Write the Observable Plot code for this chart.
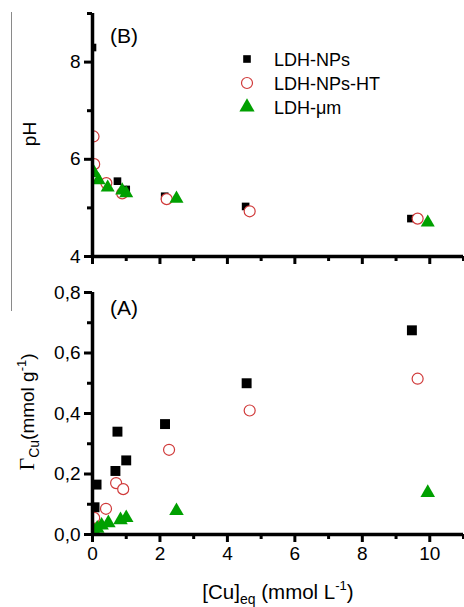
<!DOCTYPE html>
<html><head><meta charset="utf-8">
<script src="https://cdn.jsdelivr.net/npm/d3@7"></script>
<script src="https://cdn.jsdelivr.net/npm/@observablehq/plot@0.6"></script>
<style>
html,body{margin:0;padding:0;background:#fff;}
#wrap{position:relative;width:464px;height:607px;overflow:hidden;font-family:"Liberation Sans",Arial,sans-serif;}
#topPanel,#botPanel{position:absolute;left:0;}
#topPanel{top:0;} #botPanel{top:275px;}
#bar{position:absolute;left:11px;top:12px;width:0;height:299px;border-left:1.5px solid #8a8a8a;z-index:2;}
g[aria-label="x-axis tick"], g[aria-label="y-axis tick"]{stroke-width:3px;stroke:#000;}
</style></head>
<body><div id="wrap"><div id="topPanel"></div><div id="botPanel"></div><div id="bar"></div></div>
<script>
// ---- Data ----
const seriesNames = ["LDH-NPs", "LDH-NPs-HT", "LDH-\u03bcm"];
// Panel B: pH vs [Cu]eq
const phNPsX   = [0.0, 0.74, 1.0, 2.14, 4.54, 9.44];
const phNPsY   = [8.3, 5.55, 5.38, 5.24, 5.03, 4.78];
const phHTX    = [0.03, 0.05, 0.41, 0.88, 2.2, 4.66, 9.64];
const phHTY    = [6.47, 5.9, 5.51, 5.3, 5.18, 4.93, 4.78];
const phUmX    = [0.05, 0.18, 0.45, 0.88, 1.0, 2.49, 9.94];
const phUmY    = [5.72, 5.57, 5.42, 5.36, 5.3, 5.19, 4.70];
// Panel A: Gamma_Cu vs [Cu]eq
const gNPsX    = [0.03, 0.06, 0.12, 0.68, 0.74, 1.0, 2.15, 4.57, 9.47];
const gNPsY    = [0.045, 0.09, 0.165, 0.21, 0.34, 0.245, 0.365, 0.50, 0.675];
const gHTX     = [0.03, 0.05, 0.4, 0.7, 0.91, 2.27, 4.66, 9.64];
const gHTY     = [0.035, 0.055, 0.085, 0.17, 0.15, 0.28, 0.41, 0.515];
const gUmX     = [0.05, 0.14, 0.27, 0.47, 0.83, 1.0, 2.49, 9.94];
const gUmY     = [0.01, 0.02, 0.03, 0.038, 0.048, 0.055, 0.078, 0.138];
// Ticks
const xMajor = [0, 2, 4, 6, 8, 10];
const xMinor = [1, 3, 5, 7, 9, 11];
const phMajor = [4, 6, 8];
const phMinor = [5, 7, 9];
const gMajor = [0, 0.2, 0.4, 0.6, 0.8];
const gMinor = [0.1, 0.3, 0.5, 0.7];

const zip = (xs, ys) => xs.map((x, i) => ({x, y: ys[i]}));
const RED = "#d03a3a", GREEN = "#00a000";
const FONT = "\"Liberation Sans\", Arial, sans-serif";
const comma = d => d.toFixed(1).replace(".", ",");

function axes(yMajor, yMinor, yBase, showX, fmtY) {
  return [
    Plot.axisX({ticks: xMajor, tickSize: 8, strokeWidth: 3.2, tickPadding: 4,
      tickFormat: showX ? (d => String(d)) : () => "", fontSize: 19}),
    Plot.axisX({ticks: xMinor, tickSize: 5, strokeWidth: 3, tickFormat: () => ""}),
    Plot.axisY({ticks: yMajor, tickSize: 8, strokeWidth: 3.2, tickPadding: 4,
      tickFormat: fmtY, fontSize: 19}),
    Plot.axisY({ticks: yMinor, tickSize: 5, strokeWidth: 3, tickFormat: () => ""}),
    Plot.ruleY([yBase], {strokeWidth: 3.5}),
    Plot.ruleX([0], {strokeWidth: 3.5})
  ];
}

const plotB = Plot.plot({
  width: 464, height: 275,
  marginLeft: 92, marginRight: 1, marginTop: 13, marginBottom: 19,
  style: {fontFamily: FONT, fontSize: "19px", color: "#000", background: "#fff"},
  x: {domain: [0, 11], label: null},
  y: {domain: [4, 9], label: null},
  marks: [
    Plot.dot(zip(phNPsX, phNPsY), {x: "x", y: "y", symbol: "square", r: 4.3, fill: "#000", clip: true}),
    Plot.dot(zip(phHTX, phHTY), {x: "x", y: "y", symbol: "circle", r: 5.5, stroke: RED, strokeWidth: 1.2, fill: "#fff", clip: true}),
    Plot.dot(zip(phUmX, phUmY), {x: "x", y: "y", symbol: "triangle", r: 5.2, fill: GREEN, clip: true}),
    ...axes(phMajor, phMinor, 4, false, d => String(d))
  ]
});

const plotA = Plot.plot({
  width: 464, height: 332,
  marginLeft: 92, marginRight: 1, marginTop: 17, marginBottom: 73,
  style: {fontFamily: FONT, fontSize: "19px", color: "#000", background: "#fff"},
  x: {domain: [0, 11], label: null},
  y: {domain: [0, 0.8], label: null},
  marks: [
    Plot.dot(zip(gNPsX, gNPsY), {x: "x", y: "y", symbol: "square", r: 5.6, fill: "#000", clip: true}),
    Plot.dot(zip(gHTX, gHTY), {x: "x", y: "y", symbol: "circle", r: 5.5, stroke: RED, strokeWidth: 1.2, fill: "#fff", clip: true}),
    Plot.dot(zip(gUmX, gUmY), {x: "x", y: "y", symbol: "triangle", r: 5.4, fill: GREEN, clip: true}),
    ...axes(gMajor, gMinor, 0, true, comma)
  ]
});

document.getElementById("topPanel").appendChild(plotB);
document.getElementById("botPanel").appendChild(plotA);

// ---- Text labels ----
const st = d3.select(plotB), sb = d3.select(plotA);
st.append("text").attr("x", 110).attr("y", 43).attr("text-anchor", "start")
  .attr("font-size", 21).attr("font-family", FONT).text("(B)");
sb.append("text").attr("x", 110).attr("y", 40).attr("text-anchor", "start")
  .attr("font-size", 21).attr("font-family", FONT).text("(A)");

st.append("text").attr("transform", "translate(36,134) rotate(-90)")
  .attr("text-anchor", "middle").attr("font-size", 19).attr("font-family", FONT).text("pH");

const gl = sb.append("text").attr("transform", "translate(34,137) rotate(-90)")
  .attr("text-anchor", "middle").attr("font-size", 19).attr("font-family", FONT);
gl.append("tspan").attr("font-family", "\"Liberation Serif\", 'Times New Roman', serif").attr("font-size", 22).text("\u0393");
gl.append("tspan").attr("font-size", 14).attr("dy", 5).text("Cu");
gl.append("tspan").attr("dy", -5).text("(mmol g");
gl.append("tspan").attr("font-size", 13).attr("dy", -8).text("-1");
gl.append("tspan").attr("dy", 8).text(")");

const xl = sb.append("text").attr("x", 278).attr("y", 324)
  .attr("text-anchor", "middle").attr("font-size", 20.5).attr("font-family", FONT);
xl.append("tspan").text("[Cu]");
xl.append("tspan").attr("font-size", 14).attr("dy", 5).text("eq");
xl.append("tspan").attr("dy", -5).text(" (mmol L");
xl.append("tspan").attr("font-size", 13).attr("dy", -9).text("-1");
xl.append("tspan").attr("dy", 9).text(")");

// ---- Legend ----
const lg = st.append("g").attr("font-family", FONT).attr("font-size", 18).attr("text-anchor", "start");
const sym = [d3.symbolSquare, d3.symbolCircle, d3.symbolTriangle];
const sz = [58, 95, 100];
seriesNames.forEach((name, i) => {
  const cy = 59 + i * 24;
  const p = lg.append("path").attr("transform", `translate(247,${cy})`)
    .attr("d", d3.symbol(sym[i], sz[i])());
  if (i === 0) p.attr("fill", "#000");
  if (i === 1) p.attr("fill", "#fff").attr("stroke", RED).attr("stroke-width", 1.2);
  if (i === 2) p.attr("fill", GREEN);
  lg.append("text").attr("x", 274).attr("y", cy + 7).attr("text-anchor", "start").text(name);
});
</script>
</body></html>
